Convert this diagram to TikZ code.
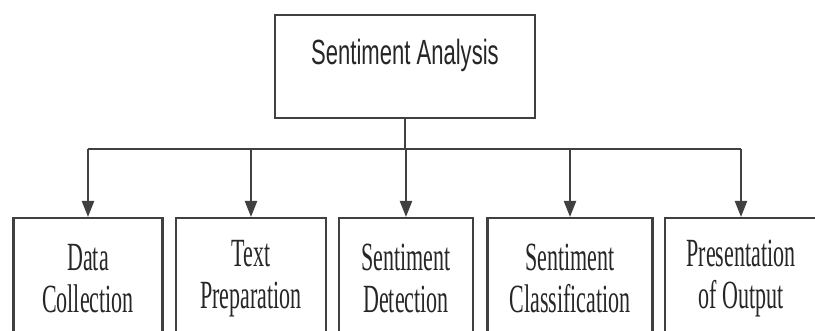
\documentclass[tikz,border=0pt]{standalone}
\usepackage{fontspec}
\usetikzlibrary{arrows.meta}
\newfontfamily\headfont[FakeStretch=0.63]{Liberation Sans}
\newfontfamily\stagefont[FakeStretch=0.55]{Liberation Serif}
\begin{document}
\begin{tikzpicture}[x=1pt,y=-1pt]
    \tikzstyle{box}=[draw=black!75, line width=2.2pt, fill=white, text=black!85]
    \tikzstyle{head}=[box, anchor=north, minimum width=260pt, inner ysep=0pt, text height=49pt, text depth=54pt, font=\headfont\fontsize{35}{40}\selectfont]
    \tikzstyle{stage}=[box, anchor=north, minimum height=121pt, align=center, inner sep=0pt, font=\stagefont\fontsize{40}{42}\selectfont]
    \tikzstyle{link}=[draw=black!75, line width=2.2pt]
    \useasboundingbox (0,0) rectangle (815,331);
    \clip (0,0) rectangle (815,331);
    \node[head] (SA) at (405,14) {Sentiment Analysis};
    \node[stage, minimum width=149pt] (DC) at (88,217) {Data\\Collection};
    \node[stage, minimum width=150pt] (TP) at (251,217) {Text\\Preparation};
    \node[stage, minimum width=134pt] (SD) at (406,217) {Sentiment\\Detection};
    \node[stage, minimum width=165pt] (SC) at (570,217) {Sentiment\\Classification};
    \node[stage, minimum width=152pt] (PO) at (741,217) {Presentation\\of Output};
    \coordinate (bus) at (405,149);
    % stem and bus
    \draw[link] (SA.south) -- (SA.south |- bus);
    \draw[link] (DC.north |- bus) -- (PO.north |- bus);
    \foreach \n in {DC,TP,SD,SC,PO}
        \draw[link, -{Triangle[length=16pt,width=12pt]}] (\n.north |- bus) -- (\n.north);
\end{tikzpicture}
\end{document}
